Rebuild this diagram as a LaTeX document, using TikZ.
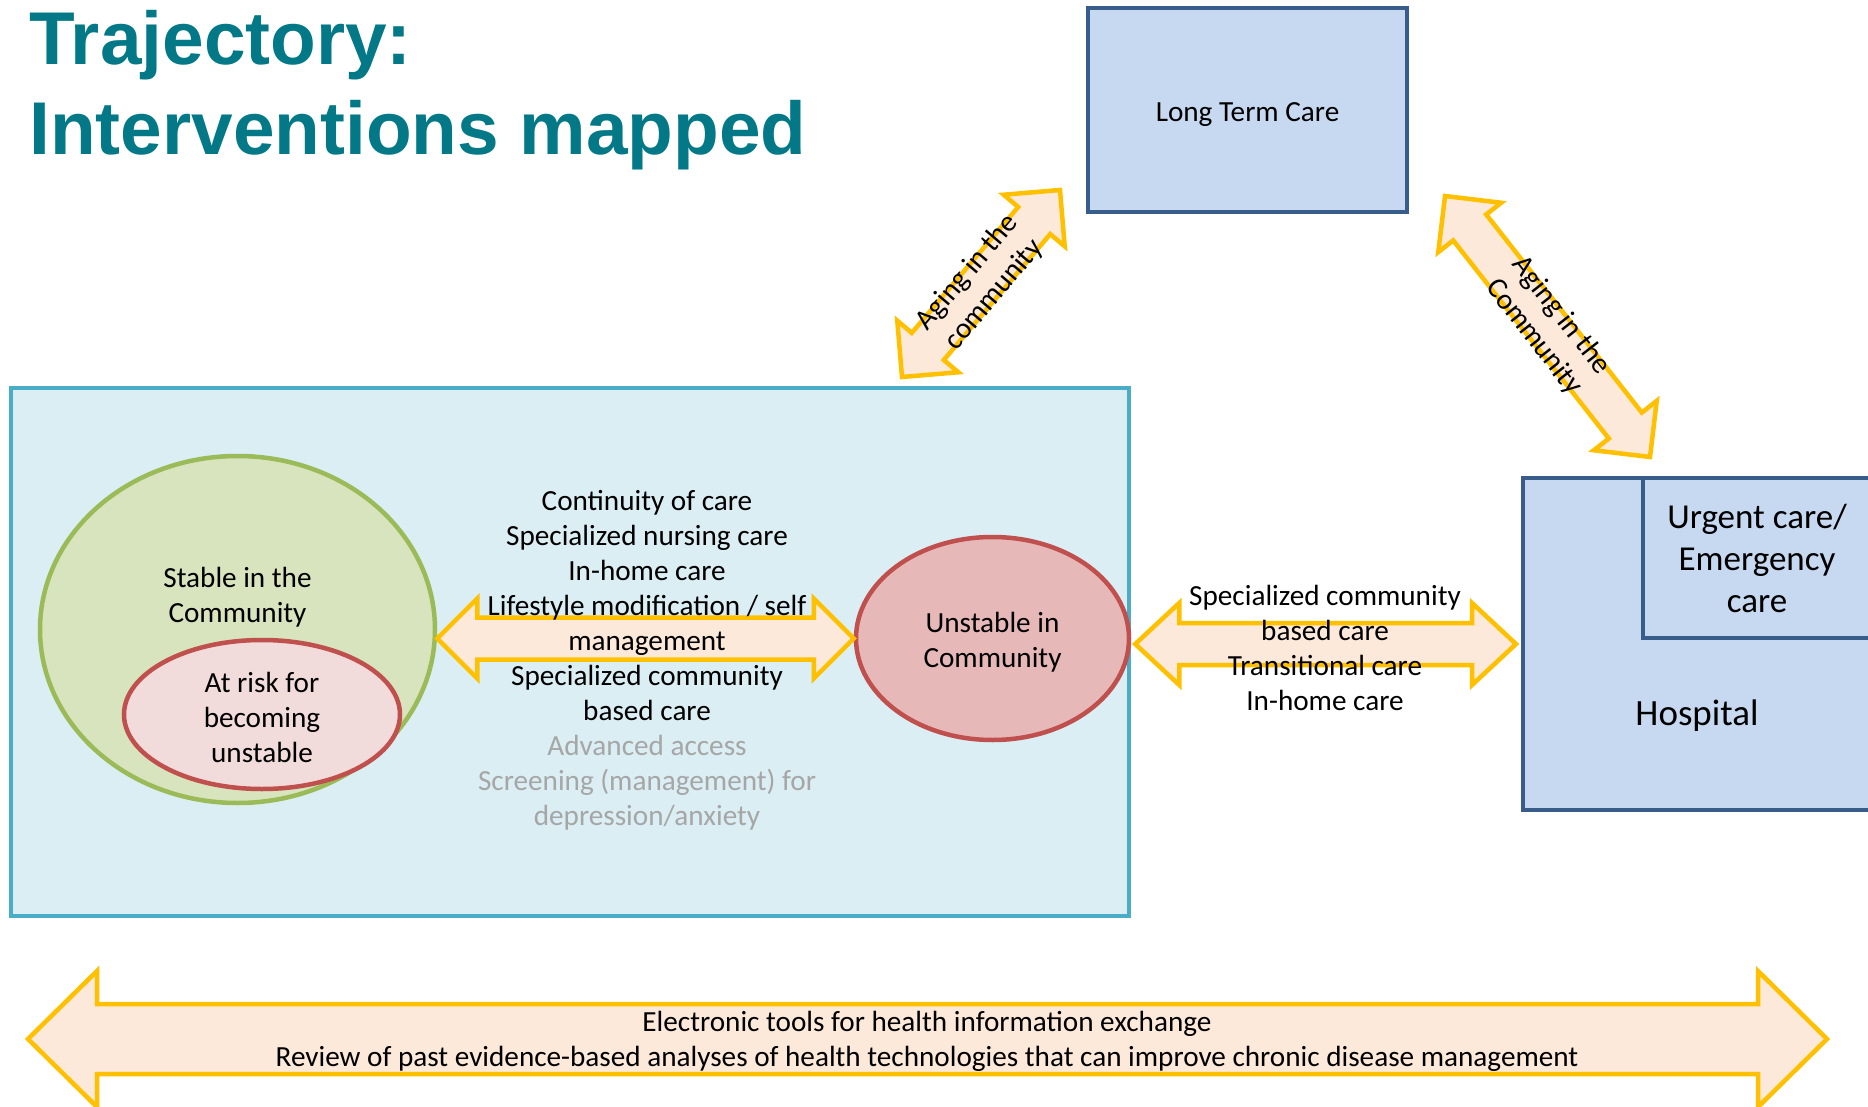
\documentclass[tikz,border=0pt]{standalone}
\usepackage{fontspec}
\usepackage{tikz}
\usetikzlibrary{calc,shapes.geometric}
\setmainfont{Carlito}
\newfontfamily\headfont{Liberation Sans}

\definecolor{headteal}{RGB}{3,120,134}
\definecolor{careblue}{RGB}{198,217,240}
\definecolor{careedge}{RGB}{56,93,138}
\definecolor{commfill}{RGB}{218,238,243}
\definecolor{commedge}{RGB}{75,172,198}
\definecolor{stablefill}{RGB}{215,228,189}
\definecolor{stableedge}{RGB}{155,187,89}
\definecolor{riskfill}{RGB}{242,220,219}
\definecolor{unstablefill}{RGB}{230,185,184}
\definecolor{redge}{RGB}{192,80,77}
\definecolor{arrowfill}{RGB}{253,233,217}
\definecolor{arrowedge}{RGB}{255,192,0}
\definecolor{lightgray}{RGB}{166,166,166}

\newcommand{\bodysize}{\fontsize{14.6}{17.5}\selectfont}

\tikzset{
  carebox/.style={rectangle, draw=careedge, fill=careblue, line width=2pt, inner sep=0pt},
  commbox/.style={rectangle, draw=commedge, fill=commfill, line width=2pt, inner sep=0pt},
  blob/.style={ellipse, line width=2.25pt, inner sep=0pt},
  txt/.style={align=center, inner sep=0pt, font=\bodysize},
  blockarrow/.style={draw=arrowedge, fill=arrowfill, line width=2.25pt}
}

% double block arrow between two tips:
% #2,#3 tips, #4 shaft half width, #5 head half width, #6 head length
\newcommand{\dblarrow}[6][]{%
  \draw[blockarrow,#1] (#2)
    -- ($(#2)!#6!(#3)!#5!90:(#3)$)
    -- ($(#2)!#6!(#3)!#4!90:(#3)$)
    -- ($(#3)!#6!(#2)!#4!-90:(#2)$)
    -- ($(#3)!#6!(#2)!#5!-90:(#2)$)
    -- (#3)
    -- ($(#3)!#6!(#2)!#5!90:(#2)$)
    -- ($(#3)!#6!(#2)!#4!90:(#2)$)
    -- ($(#2)!#6!(#3)!#4!-90:(#3)$)
    -- ($(#2)!#6!(#3)!#5!-90:(#3)$)
    -- cycle;}

\begin{document}
\begin{tikzpicture}[x=0.5pt, y=-0.5pt]
        \useasboundingbox (0,0) rectangle (1868,1107);
        \clip (0,0) rectangle (1868,1107);

        % --- Heading
        \node[anchor=base west, inner sep=0pt, text=headteal,
              font=\headfont\bfseries\fontsize{37.4}{44}\selectfont] (head1) at (29,65) {Trajectory:};
        \node[anchor=base west, inner sep=0pt, text=headteal,
              font=\headfont\bfseries\fontsize{37.4}{44}\selectfont] (head2) at (29,155) {Interventions mapped};

        % --- Care settings
        \node[carebox, minimum width=159.5pt, minimum height=102pt] (ltc) at (1247.5,110) {};
        \node[txt] (ltclabel) at ($(ltc.center)+(0,5)$) {Long Term Care};
        \node[commbox, minimum width=559pt, minimum height=264pt] (community) at (570,652) {};
        \node[carebox, minimum width=174pt, minimum height=166pt] (hospital) at (1697,644) {};
        \node[carebox, minimum width=114pt, minimum height=80pt, align=center,
              font=\fontsize{17.5}{21}\selectfont] (urgent) at (1757,558) {Urgent care/\\Emergency\\care};
        \node[inner sep=0pt, font=\fontsize{18.5}{22}\selectfont] (hosplabel) at (1697,716) {Hospital};

        % --- States in the community
        \node[blob, draw=stableedge, fill=stablefill, minimum width=197.5pt, minimum height=173.5pt] (stable) at (237.5,629.5) {};
        \node[txt] (stablelabel) at ($(stable.center)+(0,-32)$) {Stable in the\\Community};
        \node[blob, draw=redge, fill=riskfill, minimum width=138pt, minimum height=74.5pt] (atrisk) at (262,714.5) {};
        \node[txt] (atrisklabel) at ($(atrisk.center)+(0,3)$) {At risk for\\becoming\\unstable};
        \node[blob, draw=redge, fill=unstablefill, minimum width=136.5pt, minimum height=101.5pt] (unstable) at (992.5,638.5) {};
        \node[txt] (unstablelabel) at ($(unstable.center)+(0,4)$) {Unstable in\\Community};

        % --- Arrow tips
        \coordinate (midL) at (stable.east |- unstable.west);
        \coordinate (rightL) at ($(unstable.east |- hospital.west)+(4,0)$);
        \coordinate (rightR) at ($(hospital.west)+(-5,0)$);
        \coordinate (ltcA) at (902,377);
        \coordinate (ltcB) at (1060,190);
        \coordinate (hospA) at (1445,196);
        \coordinate (hospB) at (1650,457);
        \coordinate (infoL) at (28,1039);
        \coordinate (infoR) at (1827,1039);

        % --- Arrows
        \dblarrow{midL}{unstable.west}{10.5pt}{20pt}{20pt}
        \dblarrow{rightL}{rightR}{10.5pt}{20.5pt}{22pt}
        \dblarrow{ltcA}{ltcB}{10.5pt}{20pt}{20pt}
        \dblarrow{hospA}{hospB}{10.5pt}{20pt}{20pt}
        \dblarrow{infoL}{infoR}{17.5pt}{34pt}{34.5pt}

        % --- Arrow texts
        \node[txt, rotate=49.8] (aging1) at ($(ltcA)!0.5!(ltcB)$) {Aging in the\\community};
        \node[txt, rotate=-51.9] (aging2) at ($(hospA)!0.5!(hospB)$) {Aging in the\\Community};
        \node[txt] (midtext) at (647,660) {Continuity of care\\Specialized nursing care\\In-home care\\
          Lifestyle modification / self\\management\\Specialized community\\based care\\
          \textcolor{lightgray}{Advanced access}\\\textcolor{lightgray}{Screening (management) for}\\
          \textcolor{lightgray}{depression/anxiety}};
        \node[txt] (righttext) at (1325,648) {Specialized community\\based care\\Transitional care\\In-home care};
        \node[txt] (infotext) at (927,1041) {Electronic tools for health information exchange\\
          Review of past evidence-based analyses of health technologies that can improve chronic disease management};

\end{tikzpicture}
\end{document}
